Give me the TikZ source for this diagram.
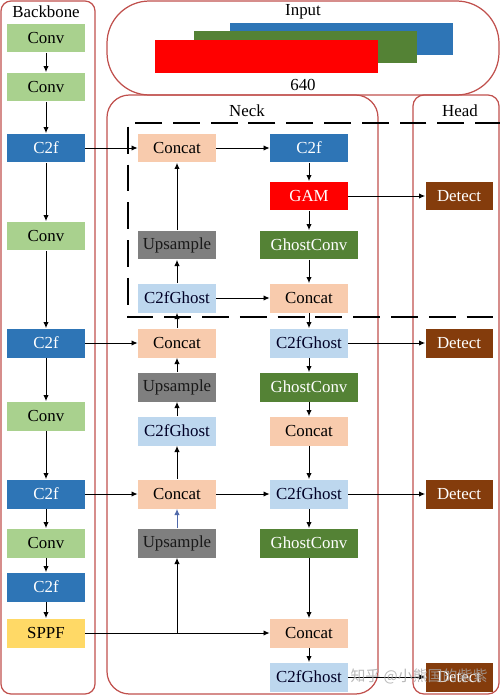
\documentclass[tikz,border=0pt]{standalone}
\usepackage{fontspec}
\setmainfont{Liberation Serif}
\newfontfamily\cjkfont{Noto Sans CJK SC}
\usetikzlibrary{arrows.meta}
\definecolor{convG}{HTML}{A9D18E}
\definecolor{cfB}{HTML}{2E75B6}
\definecolor{sppfY}{HTML}{FFD966}
\definecolor{concatP}{HTML}{F8CBAD}
\definecolor{upG}{HTML}{7F7F7F}
\definecolor{ghostLB}{HTML}{BDD7EE}
\definecolor{gconvG}{HTML}{548235}
\definecolor{gamR}{HTML}{FF0000}
\definecolor{detB}{HTML}{843C0C}
\definecolor{panelR}{RGB}{192,80,77}
\definecolor{arrB}{RGB}{80,105,170}
\tikzset{
  x=0.02cm, y=-0.02cm,
  blk/.style={rectangle, inner sep=0pt, minimum width=1.56cm, minimum height=0.58cm,
    font=\fontsize{9.6}{11}\selectfont},
  conv/.style={blk, fill=convG, text=black},
  cf/.style={blk, fill=cfB, text=white},
  sppf/.style={blk, fill=sppfY, text=black},
  concat/.style={blk, fill=concatP, text=black},
  upsmp/.style={blk, fill=upG, text=black!90},
  ghost/.style={blk, fill=ghostLB, text=black!85!blue},
  gconv/.style={blk, fill=gconvG, text=white, minimum width=1.96cm},
  gam/.style={blk, fill=gamR, text=white},
  detect/.style={blk, fill=detB, text=white, minimum width=1.34cm},
  panel/.style={draw=panelR, line width=0.7pt},
  title/.style={font=\fontsize{9.6}{11}\selectfont},
  arr/.style={-{Latex[length=3.5pt,width=3pt]}, line width=0.55pt},
  ln/.style={line width=0.55pt}
}
\begin{document}
\begin{tikzpicture}
\useasboundingbox (0,0) rectangle (500,696);
% panels
\draw[panel, rounded corners=0.2cm] (1,1) rectangle (95,694);
\draw[panel, rounded corners=0.85cm] (107,1) rectangle (499,95);
\draw[panel, rounded corners=0.45cm] (107,95) rectangle (378,694);
\draw[panel, rounded corners=0.22cm] (413,95) rectangle (499,694);
% titles
\node[title] (tback) at (46,12) {Backbone};
\node[title] (tin) at (303,12) {Input};
\node[title] (t640) at (303,85) {640};
\node[title] (tneck) at (247,111) {Neck};
\node[title] (thead) at (460,111) {Head};
% input blocks
\fill[cfB] (230,23) rectangle (453,55);
\fill[gconvG] (194,31) rectangle (417,63);
\fill[gamR] (155,40) rectangle (378,73);
% dashed box
\draw[line width=1.7pt, dash pattern=on 15.3pt off 6.2pt] (502,123) -- (128,123) -- (128,317) -- (502,317);
% backbone
\node[conv] (b1) at (46,38) {Conv};
\node[conv] (b2) at (46,87) {Conv};
\node[cf] (b3) at (46,148) {C2f};
\node[conv] (b4) at (46,236) {Conv};
\node[cf] (b5) at (46,343) {C2f};
\node[conv] (b6) at (46,416) {Conv};
\node[cf] (b7) at (46,494) {C2f};
\node[conv] (b8) at (46,543) {Conv};
\node[cf] (b9) at (46,587) {C2f};
\node[sppf] (b10) at (46,633) {SPPF};
% neck left
\node[concat] (l1) at (177,148) {Concat};
\node[upsmp] (l2) at (177,245) {Upsample};
\node[ghost] (l3) at (177,298) {C2fGhost};
\node[concat] (l4) at (177,343) {Concat};
\node[upsmp] (l5) at (177,387) {Upsample};
\node[ghost] (l6) at (177,431) {C2fGhost};
\node[concat] (l7) at (177,494) {Concat};
\node[upsmp] (l8) at (177,543) {Upsample};
% neck right
\node[cf] (r1) at (309,148) {C2f};
\node[gam] (r2) at (309,196) {GAM};
\node[gconv] (r3) at (309,245) {GhostConv};
\node[concat] (r4) at (309,298) {Concat};
\node[ghost] (r5) at (309,343) {C2fGhost};
\node[gconv] (r6) at (309,387) {GhostConv};
\node[concat] (r7) at (309,431) {Concat};
\node[ghost] (r8) at (309,494) {C2fGhost};
\node[gconv] (r9) at (309,543) {GhostConv};
\node[concat] (r10) at (309,633) {Concat};
\node[ghost] (r11) at (309,677) {C2fGhost};
% head
\node[detect] (d1) at (459,196) {Detect};
\node[detect] (d2) at (459,343) {Detect};
\node[detect] (d3) at (459,494) {Detect};
\node[detect] (d4) at (459,677) {Detect};
% backbone arrows
\foreach \a/\b in {b1/b2,b2/b3,b3/b4,b4/b5,b5/b6,b6/b7,b7/b8,b8/b9,b9/b10}
  \draw[arr] (\a.south) -- (\b.north);
% backbone to neck
\draw[arr] (b3.east) -- (l1.west);
\draw[arr] (b5.east) -- (l4.west);
\draw[arr] (b7.east) -- (l7.west);
\coordinate (sp) at (177,633);
\draw[arr] (b10.east) -- (r10.west);
\draw[arr] (sp) -- (l8.south);
% neck left upward
\draw[arr] (l2.north) -- (l1.south);
\draw[arr] (l3.north) -- (l2.south);
\draw[arr] (l4.north) -- (l3.south);
\draw[arr] (l5.north) -- (l4.south);
\draw[arr] (l6.north) -- (l5.south);
\draw[arr] (l7.north) -- (l6.south);
\draw[arr, draw=arrB] (l8.north) -- (l7.south);
% cross
\draw[arr] (l1.east) -- (r1.west);
\draw[arr] (l3.east) -- (r4.west);
\draw[arr] (l7.east) -- (r8.west);
% neck right downward
\foreach \a/\b in {r1/r2,r2/r3,r3/r4,r4/r5,r5/r6,r6/r7,r7/r8,r8/r9,r9/r10,r10/r11}
  \draw[arr] (\a.south) -- (\b.north);
% head
\draw[arr] (r2.east) -- (d1.west);
\draw[arr] (r5.east) -- (d2.west);
\draw[arr] (r8.east) -- (d3.west);
\draw[arr] (r11.east) -- (d4.west);
% watermark
\node[font=\cjkfont\fontsize{8.5}{10}\selectfont, text=gray!70, opacity=0.8] (wm) at (419,676) {知乎 @小熊国的紫紫};
\end{tikzpicture}
\end{document}
